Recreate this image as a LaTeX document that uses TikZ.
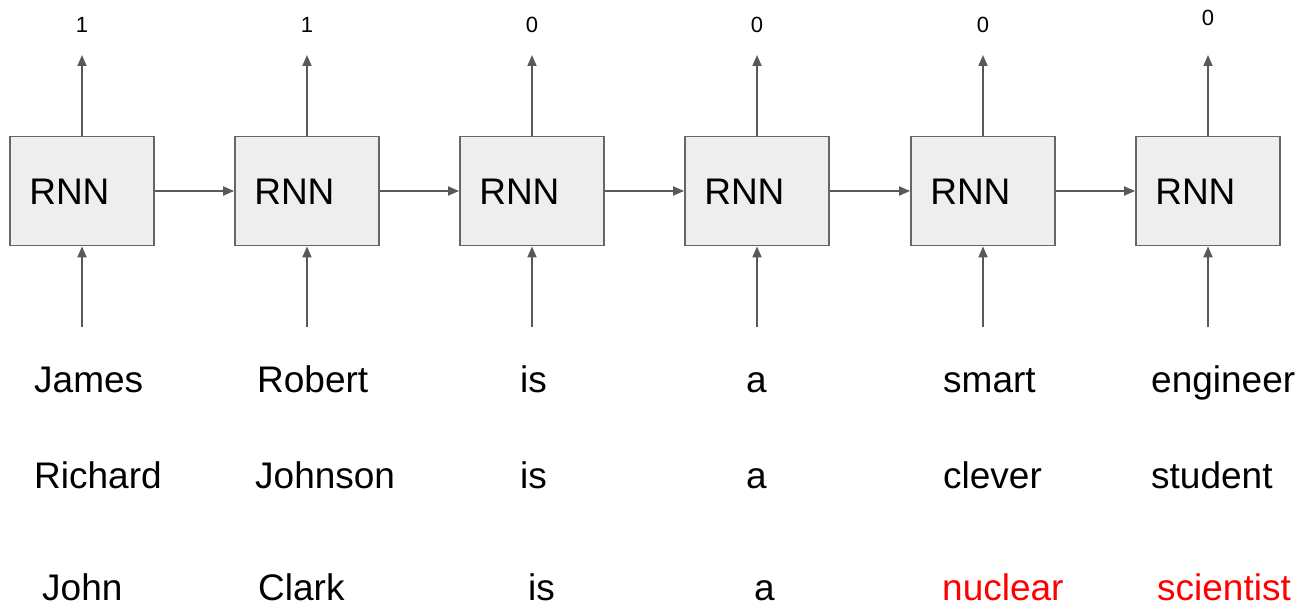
\documentclass[tikz,border=0pt]{standalone}
\usepackage{fontspec}
\setmainfont{Liberation Sans}
\usetikzlibrary{arrows.meta}
\definecolor{boxfill}{HTML}{EEEEEE}
\definecolor{boxline}{HTML}{666666}
\definecolor{arrowgray}{HTML}{595959}
\definecolor{hl}{HTML}{FF0000}
\begin{document}
\begin{tikzpicture}[x=1pt,y=-1pt,
  rnn/.style={draw=boxline, fill=boxfill, line width=1.8pt, minimum width=144pt, minimum height=109pt, inner sep=0pt},
  rnnlabel/.style={anchor=base west, font=\fontsize{37}{40}\selectfont, inner sep=0pt},
  word/.style={anchor=base west, font=\fontsize{37}{40}\selectfont, inner sep=0pt},
  outlabel/.style={font=\fontsize{22}{24}\selectfont, inner sep=0pt},
  flow/.style={draw=arrowgray, line width=1.8pt, -{Triangle[length=11pt,width=9pt]}}
]
\useasboundingbox (0,0) rectangle (1299,604);

% recurrent cells
\foreach \i/\x in {1/82, 2/307, 3/532, 4/757, 5/983, 6/1208} {
  \node[rnn] (r\i) at (\x,191) {};
  \node[rnnlabel] (t\i) at ([xshift=20pt]r\i.west |- 0,205) {RNN};
  \coordinate (in\i) at (\x,327);
}

% output labels and arrows
\foreach \i/\v/\y in {1/1/25, 2/1/25, 3/0/25, 4/0/25, 5/0/25, 6/0/18} {
  \node[outlabel] (o\i) at (r\i.north |- 0,\y) {\v};
  \coordinate (top\i) at (r\i.north |- 0,55);
  \draw[flow] (r\i.north) -- (top\i);
  \draw[flow] (in\i) -- (r\i.south);
}

% hidden-state connections
\foreach \i/\j in {1/2, 2/3, 3/4, 4/5, 5/6}
  \draw[flow] (r\i.east) -- (r\j.west);

% input sentences
\node[word] (w11) at (34,392) {James};
\node[word] (w12) at (257,392) {Robert};
\node[word] (w13) at (520,392) {is};
\node[word] (w14) at (746,392) {a};
\node[word] (w15) at (943,392) {smart};
\node[word] (w16) at (1151,392) {engineer};

\node[word] (w21) at (34,488) {Richard};
\node[word] (w22) at (255,488) {Johnson};
\node[word] (w23) at (520,488) {is};
\node[word] (w24) at (746,488) {a};
\node[word] (w25) at (943,488) {clever};
\node[word] (w26) at (1151,488) {student};

\node[word] (w31) at (42,600) {John};
\node[word] (w32) at (258,600) {Clark};
\node[word] (w33) at (528,600) {is};
\node[word] (w34) at (754,600) {a};
\node[word, text=hl] (w35) at (942,600) {nuclear};
\node[word, text=hl] (w36) at (1157,600) {scientist};
\end{tikzpicture}
\end{document}
